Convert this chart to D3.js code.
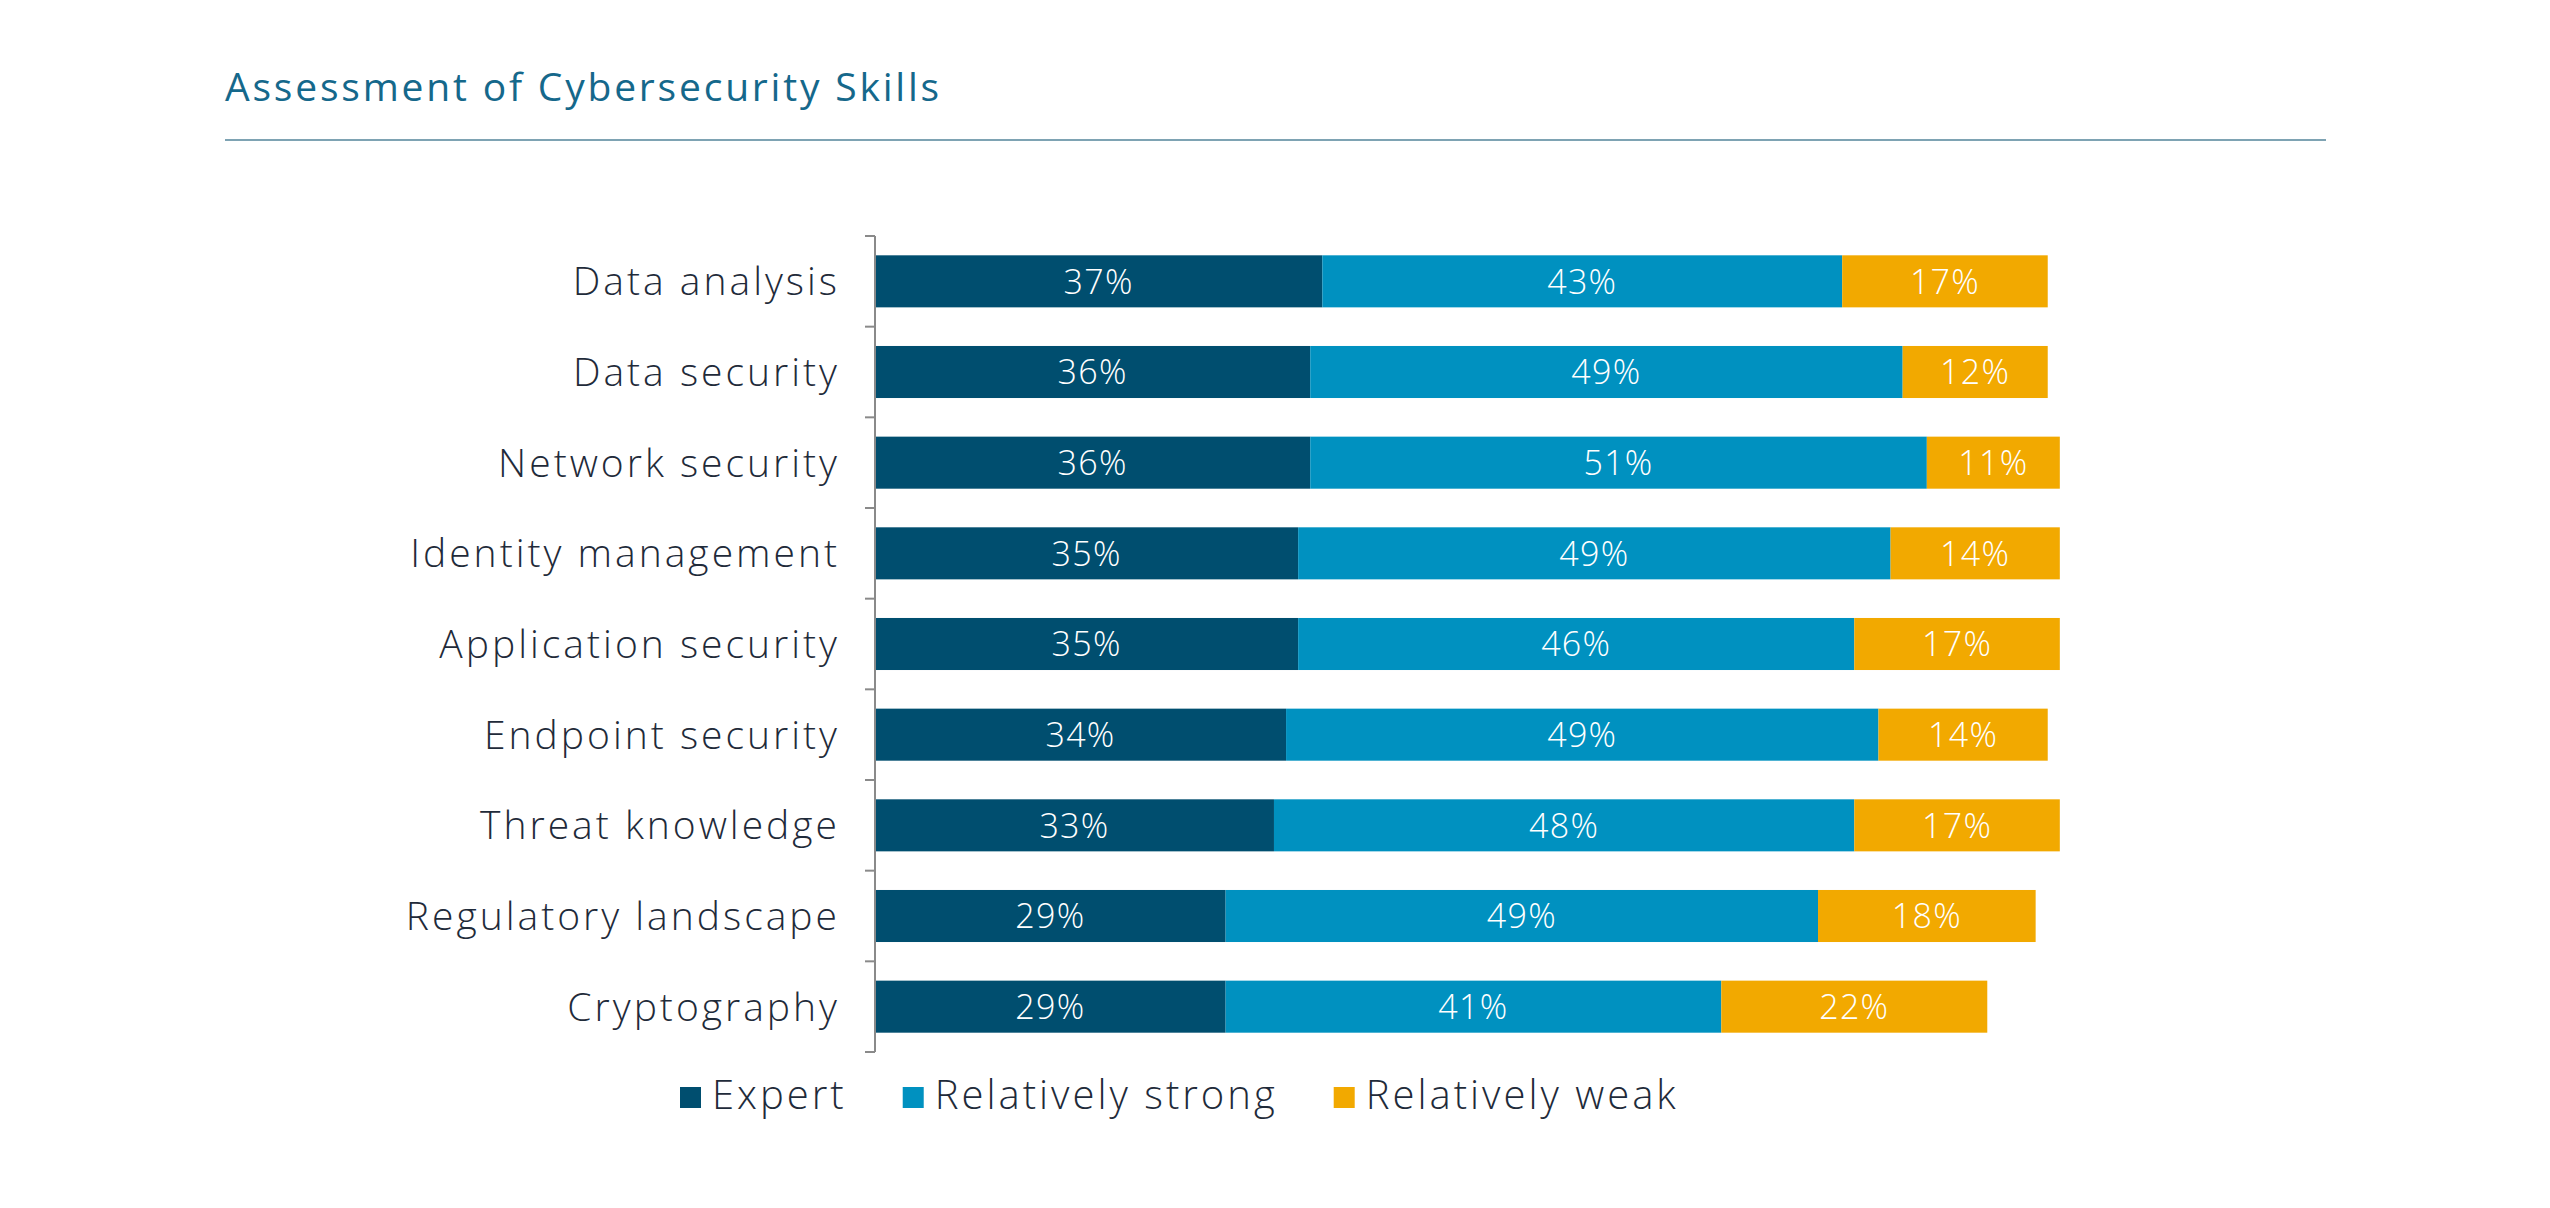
<!DOCTYPE html>
<html>
<head>
<meta charset="utf-8">
<script src="https://cdn.jsdelivr.net/npm/d3@7.9.0/dist/d3.min.js"></script>
<style>
  html, body { margin: 0; padding: 0; background: #fff; }
  svg { display: block; font-family: "Open Sans", Lato, sans-serif; }
</style>
</head>
<body>
<svg id="chart" width="2550" height="1208"></svg>
<script>
const title = 'Assessment of Cybersecurity Skills';

const categories = [
  'Data analysis',
  'Data security',
  'Network security',
  'Identity management',
  'Application security',
  'Endpoint security',
  'Threat knowledge',
  'Regulatory landscape',
  'Cryptography'
];

const seriesNames = ['Expert', 'Relatively strong', 'Relatively weak'];
const expert = [37, 36, 36, 35, 35, 34, 33, 29, 29];
const strong = [43, 49, 51, 49, 46, 49, 48, 49, 41];
const weak = [17, 12, 11, 14, 17, 14, 17, 18, 22];

const colors = ['#004e6f', '#0091c0', '#f2a900'];

let rows = categories.map((c, i) => ({
  category: c,
  'Expert': expert[i],
  'Relatively strong': strong[i],
  'Relatively weak': weak[i]
}));

let svg = d3.select('#chart');

// title and rule
svg.append('text')
  .attr('x', 225)
  .attr('y', 101)
  .attr('fill', '#15688b')
  .attr('font-size', 39)
  .attr('letter-spacing', 2.8)
  .text(title);

svg.append('line')
  .attr('x1', 225).attr('x2', 2326)
  .attr('y1', 140).attr('y2', 140)
  .attr('stroke', '#7ea3b3')
  .attr('stroke-width', 2);

let x = d3.scaleLinear().domain([0, 100]).range([875, 2084]);

let y = d3.scaleBand()
  .domain(categories)
  .range([236, 1052])
  .paddingInner(0.426)
  .paddingOuter(0.213);

let stack = d3.stack().keys(seriesNames);
let stacked = stack(rows);

let layers = svg.append('g')
  .selectAll('g')
  .data(stacked)
  .join('g')
  .attr('fill', (d, i) => colors[i]);

layers.selectAll('rect')
  .data(d => d)
  .join('rect')
  .attr('x', d => x(d[0]))
  .attr('width', d => x(d[1]) - x(d[0]))
  .attr('y', d => y(d.data.category))
  .attr('height', y.bandwidth());

layers.selectAll('text')
  .data(d => d.map(v => ({ v, key: d.key })))
  .join('text')
  .attr('x', d => (x(d.v[0]) + x(d.v[1])) / 2)
  .attr('y', d => y(d.v.data.category) + y.bandwidth() / 2)
  .attr('dy', '0.36em')
  .attr('text-anchor', 'middle')
  .attr('fill', '#fff')
  .attr('font-size', 34)
  .attr('font-weight', 300)
  .attr('letter-spacing', 1.3)
  .text(d => d.v.data[d.key] + '%');

// y axis: line with ticks at band boundaries
let axis = svg.append('g')
  .attr('stroke', '#8a8a8a')
  .attr('stroke-width', 2);

axis.append('line')
  .attr('x1', x(0)).attr('x2', x(0))
  .attr('y1', y.range()[0]).attr('y2', y.range()[1]);

let bounds = categories.map(c => y(c) - y.step() * y.paddingInner() / 2);
bounds.push(y.range()[1]);

axis.selectAll('.tick')
  .data(bounds)
  .join('line')
  .attr('x1', x(0) - 10).attr('x2', x(0))
  .attr('y1', d => d).attr('y2', d => d);

svg.append('g')
  .selectAll('text')
  .data(categories)
  .join('text')
  .attr('x', 840)
  .attr('y', d => y(d) + y.bandwidth() / 2)
  .attr('dy', '0.36em')
  .attr('text-anchor', 'end')
  .attr('fill', '#1f2b3a')
  .attr('font-size', 39)
  .attr('font-weight', 300)
  .attr('letter-spacing', 3)
  .text(d => d);

// legend
let legend = svg.append('g');
let lx = 680;
seriesNames.forEach((name, i) => {
  legend.append('rect')
    .attr('x', lx).attr('y', 1087)
    .attr('width', 21).attr('height', 21)
    .attr('fill', colors[i]);
  let t = legend.append('text')
    .attr('x', lx + 32)
    .attr('y', 1109)
    .attr('fill', '#1f2b3a')
    .attr('font-size', 40)
    .attr('font-weight', 300)
    .attr('letter-spacing', 3)
    .text(name);
  lx += 32 + t.node().getComputedTextLength() + 56;
});
</script>
</body>
</html>
